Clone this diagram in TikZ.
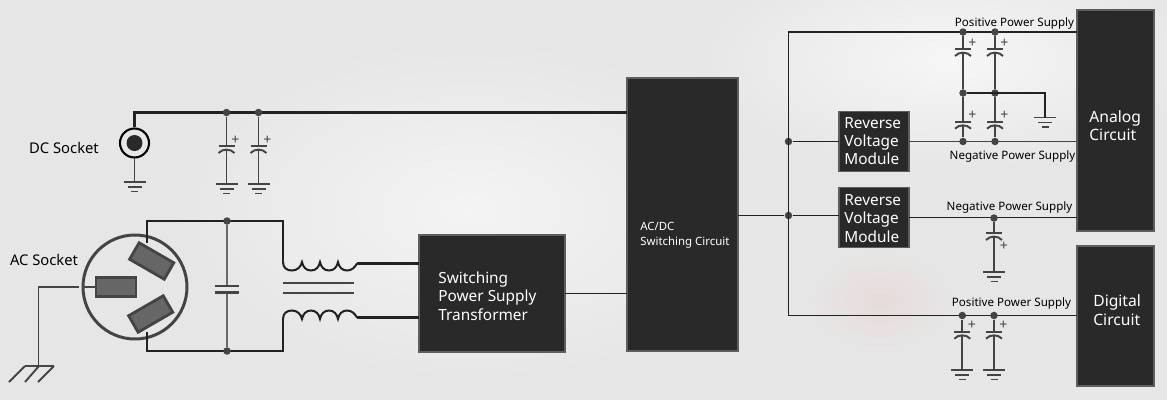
\documentclass[tikz,border=0pt]{standalone}
\usepackage{fontspec}
\setmainfont{Noto Sans}
\definecolor{bgcol}{HTML}{E6E6E6}
\definecolor{boxfill}{HTML}{292929}
\definecolor{boxedge}{HTML}{5E5E5E}
\definecolor{wirecol}{HTML}{222222}
\definecolor{leadcol}{HTML}{444444}
\definecolor{pinfill}{HTML}{666666}
\tikzset{
  blk/.style={draw=boxedge, fill=boxfill, line width=1.1pt, inner sep=0pt, outer sep=0pt},
  blktext/.style={text=white, align=left, anchor=west, inner sep=0pt},
  wire/.style={draw=wirecol, line width=1.15pt},
  rail/.style={draw=wirecol, line width=0.9pt},
  lead/.style={draw=leadcol, line width=1.1pt},
  jdot/.style={circle, fill=leadcol, inner sep=0pt, minimum size=0.15cm},
  pinbox/.style={draw=leadcol, fill=pinfill, line width=1.6pt, minimum width=0.8cm, minimum height=0.38cm, inner sep=0pt},
  sidetext/.style={text=black, inner sep=0pt},
  pics/gnd/.style={code={
    \draw[lead] (-11,0) -- (11,0);
    \draw[lead] (-7,5) -- (7,5);
    \draw[lead] (-3.5,9.5) -- (3.5,9.5);
    \coordinate (-top) at (0,0);
  }},
  pics/polcap/.style={code={
    \draw[lead] (-8,0) -- (8,0);
    \draw[lead] (-8,7) .. controls (-4,2.5) and (4,2.5) .. (8,7);
    \coordinate (-top) at (0,0);
    \coordinate (-bot) at (0,4);
    \node[text=leadcol, inner sep=0pt, font=\fontsize{8}{8}\selectfont] (-plus) at (#1) {+};
  }},
  pics/coil/.style={code={
    \draw[wire] (0,0) .. controls (0,6) and (4,8.5) .. (9,8.5)
      .. controls (14,8.5) and (18,5) .. (19,0)
      .. controls (20,5) and (23,8.5) .. (28,8.5)
      .. controls (33,8.5) and (36,5) .. (37,0)
      .. controls (38,5) and (41,8.5) .. (46,8.5)
      .. controls (51,8.5) and (54,5) .. (55,0)
      .. controls (56,5) and (59,8.5) .. (64,8.5)
      .. controls (69,8.5) and (72,5) .. (74,1.5);
    \coordinate (-start) at (0,0);
    \coordinate (-end) at (74,1.5);
  }}
}
\begin{document}
\begin{tikzpicture}[x=0.02cm, y=-0.02cm]
\useasboundingbox (0,0) rectangle (1167,400);
\fill[bgcol] (0,0) rectangle (1167,400);
% soft backdrop
\begin{scope}
\clip (0,0) rectangle (1167,400);
\shade[inner color=white!55!bgcol, outer color=bgcol] (470,210) ellipse (300 and 170);
\shade[inner color=white!65!bgcol, outer color=bgcol] (950,60) ellipse (260 and 110);
\shade[inner color=red!5!bgcol, outer color=bgcol] (880,300) ellipse (70 and 50);
\end{scope}

% blocks
\node[blk, minimum width=2.92cm, minimum height=2.34cm] (xfmr) at (492,293.5) {};
\node[blk, minimum width=2.22cm, minimum height=5.46cm] (acdc) at (682.5,214.5) {};
\node[blk, minimum width=1.4cm, minimum height=1.2cm] (rvmA) at (874,141.5) {};
\node[blk, minimum width=1.4cm, minimum height=1.2cm] (rvmB) at (874,217.5) {};
\node[blk, minimum width=1.54cm, minimum height=4.42cm] (analog) at (1115.5,120.5) {};
\node[blk, minimum width=1.54cm, minimum height=2.8cm] (digital) at (1115.5,316) {};

\node[blktext, font=\fontsize{8.75}{10.6}\selectfont] (xfmrtext) at (438,296) {Switching\\Power Supply\\Transformer};
\node[blktext, font=\fontsize{6.5}{8.5}\selectfont] (acdctext) at (640,235.5) {AC/DC\\Switching Circuit};
\node[blktext, font=\fontsize{8.75}{10.4}\selectfont] (rvmAtext) at (844,141) {Reverse\\Voltage\\Module};
\node[blktext, font=\fontsize{8.75}{10.4}\selectfont] (rvmBtext) at (844,218.5) {Reverse\\Voltage\\Module};
\node[blktext, font=\fontsize{8.9}{10.6}\selectfont] (analogtext) at (1089,125.5) {Analog\\Circuit};
\node[blktext, font=\fontsize{8.9}{10.6}\selectfont] (digitaltext) at (1093,310) {Digital\\Circuit};

\node[sidetext, font=\fontsize{8.4}{10}\selectfont] (dclabel) at (64,148) {DC Socket};
\node[sidetext, font=\fontsize{8.4}{10}\selectfont] (aclabel) at (44,260) {AC Socket};
\node[sidetext, font=\fontsize{6.6}{8}\selectfont] (posA) at (1014.5,23) {Positive Power Supply};
\node[sidetext, font=\fontsize{6.6}{8}\selectfont] (negA) at (1012.5,156) {Negative Power Supply};
\node[sidetext, font=\fontsize{6.6}{8}\selectfont] (negB) at (1009.5,207) {Negative Power Supply};
\node[sidetext, font=\fontsize{6.6}{8}\selectfont] (posB) at (1011.5,303) {Positive Power Supply};

% DC socket
\node[circle, draw=black, line width=1.2pt, minimum size=0.58cm, inner sep=0pt] (dcsock) at (134.5,143) {};
\node[circle, fill=boxfill, minimum size=0.32cm, inner sep=0pt] (dcpin) at (134.5,143) {};
\coordinate (dccorner) at (134.5,112.5);
\draw[wire] (dcsock.north) -- (dccorner) -- (acdc.west |- dccorner);
\pic (gndDC) at (134.5,182) {gnd};
\draw[lead] (dcsock.south) -- (gndDC-top);

\node[jdot] (dcA) at (226.5,112.5) {};
\node[jdot] (dcB) at (258.5,112.5) {};
\pic (capA) at (226.5,146) {polcap={9,-6}};
\pic (capB) at (258.5,146) {polcap={9,-6}};
\pic (gndA) at (226.5,184) {gnd};
\pic (gndB) at (258.5,184) {gnd};
\draw[lead] (dcA) -- (capA-top);
\draw[lead] (dcB) -- (capB-top);
\draw[lead] (capA-bot) -- (gndA-top);
\draw[lead] (capB-bot) -- (gndB-top);

% AC socket
\node[circle, draw=leadcol, line width=1.7pt, minimum size=2.08cm, inner sep=0pt] (acsock) at (135,287) {};
\node[pinbox] (pinL) at (116,287) {};
\node[pinbox, rotate=-30] (pinT) at (151.7,261) {};
\node[pinbox, rotate=30] (pinB) at (150.7,314) {};
\coordinate (acT) at (146.7,221);
\coordinate (acB) at (146.7,351);
\coordinate (pinTlead) at (146.7,243);
\coordinate (pinBlead) at (146.7,332);
\draw[lead, line width=1.3pt] (acsock.west) -- (pinL.west);
\coordinate (earthend) at (79,287);
\coordinate (earthcorner) at (38.5,287);
\coordinate (earthbase) at (38.5,366);
\draw[lead] (earthend) -- (earthcorner) -- (earthbase);
\draw[lead] (25,366) -- (54,366);
\draw[lead] (25,366) -- (9,382);
\draw[lead] (39,366) -- (25,382);
\draw[lead] (54,366) -- (38,382);

\pic (coilA) at (283,262) {coil};
\pic[yscale=-1] (coilB) at (283,319) {coil};
\draw[wire] (pinTlead) -- (acT) -- (coilA-start |- acT) -- (coilA-start);
\draw[wire] (pinBlead) -- (acB) -- (coilB-start |- acB) -- (coilB-start);
\draw[wire] (coilA-end) -- (xfmr.west |- coilA-end);
\draw[wire] (coilB-end) -- (xfmr.west |- coilB-end);
\draw[lead] (283,282.7) -- (354,282.7);
\draw[lead] (283,293) -- (354,293);

\node[jdot] (acdotT) at (227,221) {};
\node[jdot] (acdotB) at (227,351) {};
\coordinate (xcapT) at (227,285.7);
\coordinate (xcapB) at (227,292.5);
\draw[leadcol!80, line width=0.9pt] (acdotT) -- (xcapT);
\draw[leadcol!80, line width=0.9pt] (acdotB) -- (xcapB);
\draw[leadcol, line width=1.3pt] (215,285.7) -- (239,285.7);
\draw[leadcol, line width=1.3pt] (215,292.5) -- (239,292.5);

\draw[rail] (xfmr.east |- 0,293.5) -- (acdc.west |- 0,293.5);

% right side rails
\node[jdot] (railmid) at (788.5,215.5) {};
\node[jdot] (railup) at (788.5,141.5) {};
\coordinate (railtop) at (788.5,32);
\coordinate (railbot) at (788.5,315.5);
\draw[rail] (acdc.east |- railmid) -- (railmid) -- (rvmB.west |- railmid);
\draw[rail] (railup) -- (rvmA.west |- railup);
\draw[rail] (analog.west |- railtop) -- (railtop) -- (railbot) -- (digital.west |- railbot);
\draw[lead] (rvmA.east |- railup) -- (analog.west |- railup);
\draw[rail] (rvmB.east) -- (analog.west |- rvmB.east);

% analog decoupling
\node[jdot] (posAa) at (963,32) {};
\node[jdot] (posAb) at (995,32) {};
\node[jdot] (midAa) at (963,93) {};
\node[jdot] (midAb) at (995,93) {};
\node[jdot] (negAa) at (963,141.5) {};
\node[jdot] (negAb) at (995,141.5) {};
\pic (capC) at (963,49) {polcap={9.5,-6}};
\pic (capD) at (995,49) {polcap={9.5,-6}};
\pic (capE) at (963,121.7) {polcap={9.5,-6.5}};
\pic (capF) at (995,121.7) {polcap={9.5,-6.5}};
\draw[lead] (posAa) -- (capC-top);
\draw[lead] (posAb) -- (capD-top);
\draw[lead] (capC-bot) -- (midAa) -- (capE-top);
\draw[lead] (capD-bot) -- (midAb) -- (capF-top);
\draw[lead] (capE-bot) -- (negAa);
\draw[lead] (capF-bot) -- (negAb);
\pic (gndC) at (1045,117.5) {gnd};
\coordinate (gndcorner) at (1045,93);
\draw[rail] (midAa) -- (gndcorner) -- (gndC-top);

% negative rail cap
\node[jdot] (negBa) at (994,218) {};
\pic (capG) at (994,233) {polcap={10,13.5}};
\pic (gndD) at (994,272) {gnd};
\draw[lead] (negBa) -- (capG-top);
\draw[lead] (capG-bot) -- (gndD-top);

% digital decoupling
\node[jdot] (posBa) at (962.3,315.5) {};
\node[jdot] (posBb) at (994,315.5) {};
\pic (capH) at (962.3,331.7) {polcap={9.5,-6.5}};
\pic (capI) at (994,331.7) {polcap={9.5,-6.5}};
\pic (gndE) at (962.3,370) {gnd};
\pic (gndF) at (994,370) {gnd};
\draw[lead] (posBa) -- (capH-top);
\draw[lead] (posBb) -- (capI-top);
\draw[lead] (capH-bot) -- (gndE-top);
\draw[lead] (capI-bot) -- (gndF-top);
\end{tikzpicture}
\end{document}
